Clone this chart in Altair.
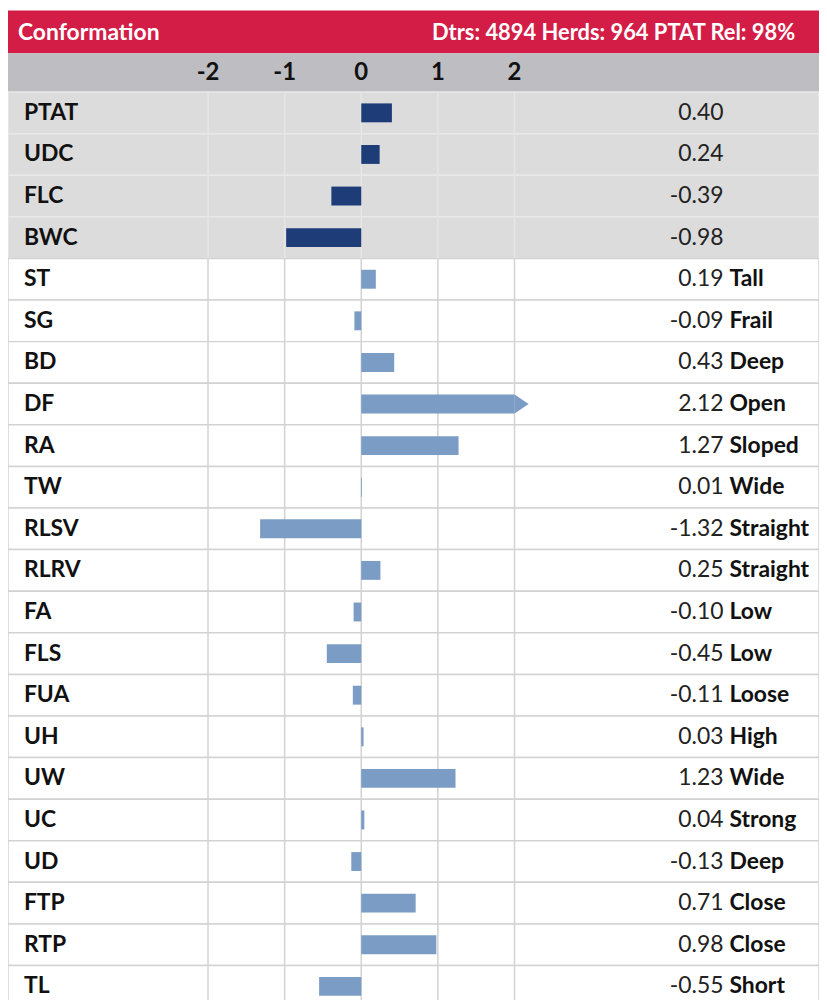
import altair as alt
import pandas as pd

# ---- data ----
traits = ["PTAT", "UDC", "FLC", "BWC", "ST", "SG", "BD", "DF", "RA", "TW", "RLSV",
          "RLRV", "FA", "FLS", "FUA", "UH", "UW", "UC", "UD", "FTP", "RTP", "TL"]
values = [0.40, 0.24, -0.39, -0.98, 0.19, -0.09, 0.43, 2.12, 1.27, 0.01, -1.32,
          0.25, -0.10, -0.45, -0.11, 0.03, 1.23, 0.04, -0.13, 0.71, 0.98, -0.55]
descriptors = ["", "", "", "", "Tall", "Frail", "Deep", "Open", "Sloped", "Wide", "Straight",
               "Straight", "Low", "Low", "Loose", "High", "Wide", "Strong", "Deep", "Close", "Close", "Short"]
groups = ["composite"] * 4 + ["linear"] * 18
tick_values = [-2, -1, 0, 1, 2]
tick_labels = ["-2", "-1", "0", "1", "2"]
title_left = "Conformation"
title_right = "Dtrs: 4894  Herds: 964 PTAT Rel: 98%"

df = pd.DataFrame({
    "trait": traits,
    "value": values,
    "desc": descriptors,
    "group": groups,
    "label": [f"{v:.2f}" for v in values],
    "zero": [0.0] * len(traits),
})
ticks = pd.DataFrame({"v": tick_values, "t": tick_labels})
one = pd.DataFrame({"a": [0]})

# ---- layout ----
W = 815
H = 1002
ROW = 41.8
TOP = 82
N = len(traits)
FONT = "Lato"
RED = "#d31c46"
BAND = "#bdbdc2"

xscale = alt.Scale(domain=[-2, 2], range=[355 - 154, 355 + 154], nice=False, zero=False)
yscale = alt.Scale(domain=traits, range=[TOP, TOP + N * ROW], paddingInner=0, paddingOuter=0)
Y = alt.Y("trait:N", scale=yscale, axis=None)

header = alt.Chart(one).mark_rect(color=RED).encode(
    x=alt.value(0), x2=alt.value(W), y=alt.value(0), y2=alt.value(43))
axisband = alt.Chart(one).mark_rect(color=BAND).encode(
    x=alt.value(0), x2=alt.value(W), y=alt.value(43), y2=alt.value(TOP))
head_l = alt.Chart(one).mark_text(
    text=title_left, align="left", baseline="middle", font=FONT, fontWeight="bold",
    fontSize=23, color="white").encode(x=alt.value(10), y=alt.value(23))
head_r = alt.Chart(one).mark_text(
    text=title_right, align="right", baseline="middle", font=FONT, fontWeight="bold",
    fontSize=22, color="white").encode(x=alt.value(791), y=alt.value(23))

tick_text = alt.Chart(ticks).mark_text(
    align="center", baseline="middle", font=FONT, fontWeight="bold", fontSize=24,
    color="#111111").encode(x=alt.X("v:Q", scale=xscale, axis=None), y=alt.value(63), text="t:N")

rows = alt.Chart(df).mark_rect(strokeWidth=1.5).encode(
    y=Y, x=alt.value(0), x2=alt.value(W),
    fill=alt.Fill("group:N", scale=alt.Scale(domain=["composite", "linear"],
                                             range=["#dcdcdc", "#ffffff"]), legend=None),
    stroke=alt.Stroke("group:N", scale=alt.Scale(domain=["composite", "linear"],
                                                 range=["#e8e8e8", "#d2d2d2"]), legend=None),
)

grid_top = alt.Chart(ticks).mark_rule(color="#e6e6e6", strokeWidth=1.5).encode(
    x=alt.X("v:Q", scale=xscale, axis=None), y=alt.value(TOP), y2=alt.value(TOP + 4 * ROW))
grid_bot = alt.Chart(ticks).mark_rule(color="#d2d2d2", strokeWidth=1.5).encode(
    x=alt.X("v:Q", scale=xscale, axis=None), y=alt.value(TOP + 4 * ROW), y2=alt.value(TOP + N * ROW))

bars = alt.Chart(df).transform_calculate(xend="min(datum.value, 2)").mark_bar(size=19).encode(
    y=Y,
    x=alt.X("zero:Q", scale=xscale, axis=None, stack=None),
    x2="xend:Q",
    color=alt.Color("group:N", scale=alt.Scale(domain=["composite", "linear"],
                                               range=["#1e3c78", "#7b9cc5"]), legend=None),
)

arrow = alt.Chart(df).transform_filter("datum.value > 2").transform_calculate(
    xend="min(datum.value, 2)").mark_point(
    shape="M0,-1L1.5,0L0,1Z", size=361, filled=True, opacity=1, strokeWidth=0,
    color="#7b9cc5").encode(y=Y, x=alt.X("xend:Q", scale=xscale, axis=None))

names = alt.Chart(df).mark_text(
    align="left", baseline="middle", font=FONT, fontWeight="bold", fontSize=23,
    color="#111111").encode(x=alt.value(16), y=Y, text="trait:N")
vals = alt.Chart(df).mark_text(
    align="right", baseline="middle", font=FONT, fontWeight="normal", fontSize=23,
    color="#222222").encode(x=alt.value(719), y=Y, text="label:N")
descs = alt.Chart(df).mark_text(
    align="left", baseline="middle", font=FONT, fontWeight="bold", fontSize=23,
    color="#111111").encode(x=alt.value(725), y=Y, text="desc:N")

chart = alt.layer(
    header, axisband, head_l, head_r, tick_text, rows, grid_top, grid_bot,
    bars, arrow, names, vals, descs
).properties(
    width=W, height=H, padding=0, background="white",
    autosize=alt.AutoSizeParams(type="none"),
).configure_view(strokeWidth=0)

chart.save("out.html", embed_options={"renderer": "svg", "actions": False})
